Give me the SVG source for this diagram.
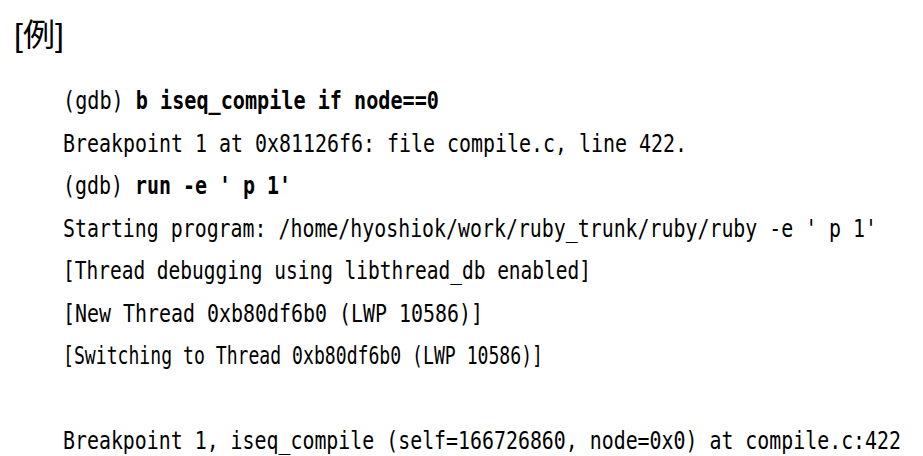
<svg xmlns="http://www.w3.org/2000/svg" width="923" height="456" viewBox="0 0 923 456">
<style>
text{font-family:"DejaVu Sans Mono","Liberation Mono",monospace;font-size:24px;fill:#000}
.b{font-weight:bold}
.t{font-family:"Liberation Sans","Noto Sans CJK JP",sans-serif;font-size:32px}
</style>
<rect width="923" height="456" fill="#fff"/>
<text class="t" x="14" y="46">[例]</text>
<g id="console">
<text x="63" y="109" textLength="376" lengthAdjust="spacingAndGlyphs">(gdb) <tspan class="b">b iseq_compile if node==0</tspan></text>
<text x="63" y="152" textLength="624" lengthAdjust="spacingAndGlyphs">Breakpoint 1 at 0x81126f6: file compile.c, line 422.</text>
<text x="63" y="194" textLength="228" lengthAdjust="spacingAndGlyphs">(gdb) <tspan class="b">run -e ' p 1'</tspan></text>
<text x="63" y="237" textLength="814" lengthAdjust="spacingAndGlyphs">Starting program: /home/hyoshiok/work/ruby_trunk/ruby/ruby -e ' p 1'</text>
<text x="63" y="279" textLength="528" lengthAdjust="spacingAndGlyphs">[Thread debugging using libthread_db enabled]</text>
<text x="63" y="322" textLength="420" lengthAdjust="spacingAndGlyphs">[New Thread 0xb80df6b0 (LWP 10586)]</text>
<text x="63" y="364" textLength="480" lengthAdjust="spacingAndGlyphs">[Switching to Thread 0xb80df6b0 (LWP 10586)]</text>
<text x="63" y="449" textLength="838" lengthAdjust="spacingAndGlyphs">Breakpoint 1, iseq_compile (self=166726860, node=0x0) at compile.c:422</text>
</g>
</svg>
